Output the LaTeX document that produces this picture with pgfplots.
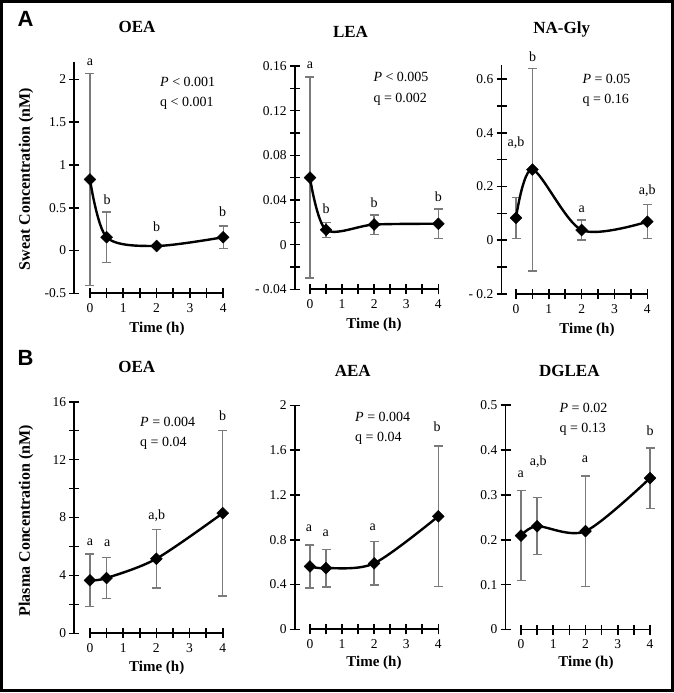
\documentclass[border=0pt]{standalone}
\usepackage{fontspec}
\setmainfont{Liberation Serif}
\newfontfamily\arialfont{Liberation Sans}
\usepackage{pgfplots}
\pgfplotsset{compat=1.18}
\newcommand\fs[1]{\fontsize{#1bp}{#1bp}\selectfont}
\definecolor{errgray}{HTML}{7A7A7A}

\pgfplotstableread{
t m e
0 0.83 1.24
0.5 0.155 0.295
2 0.053 0.02
4 0.155 0.13
}\tabAa
\pgfplotstableread{
t m e
0 0.060 0.09
0.5 0.0133 0.0067
2 0.018 0.0087
4 0.0187 0.0133
}\tabAb
\pgfplotstableread{
t m e
0 0.083 0.077
0.5 0.263 0.377
2 0.038 0.037
4 0.069 0.063
}\tabAc
\pgfplotstableread{
t m e
0 3.66 1.82
0.5 3.82 1.43
2 5.15 2.02
4 8.3 5.72
}\tabBa
\pgfplotstableread{
t m e
0 0.561 0.192
0.5 0.546 0.168
2 0.589 0.193
4 1.009 0.628
}\tabBb
\pgfplotstableread{
t m e
0 0.209 0.1
0.5 0.23 0.0635
2 0.219 0.123
4 0.337 0.067
}\tabBc

\pgfplotsset{
  panel/.style={
    scale only axis, clip=false, anchor=south west,
    axis x line*=bottom, axis y line*=left,
    x axis line style={draw=none},
    y axis line style={line width=1.8bp, black},
    tick align=center,
    major tick length=10bp, minor tick length=10bp,
    tick style={black, line width=1.6bp},
    xmax=4,
    xtick={0,1,2,3,4}, minor xtick={0.5,1.5,2.5,3.5},
    xticklabels={0,1,2,3,4},
    tick label style={font=\fs{13.5}},
    yticklabel style={anchor=east, inner sep=0pt, xshift=-3bp},
    xticklabel style={anchor=north, inner sep=0pt, yshift=-5bp},
  },
  errs/.style={only marks, mark=none,
    error bars/.cd, y dir=both, y explicit,
    error bar style={draw=errgray, line width=1.4bp},
    error mark options={rotate=90, draw=errgray, mark size=4.5bp, line width=1.4bp}},
  curve/.style={black, line width=2.4bp, smooth, mark=square*,
    mark size=4.2bp, mark options={rotate=45, solid, fill=black, draw=black, line width=0.4bp}},
}
\newcommand\xline[1]{\draw[line width=1.8bp] (axis cs:0,#1) -- (axis cs:4,#1);}

\begin{document}
\begin{tikzpicture}
\useasboundingbox (0,0) rectangle (674bp,-693bp);
\fill[white] (0,0) rectangle (674bp,-693bp);
\draw[line width=2.6bp] (1.2bp,-1.2bp) rectangle (672.4bp,-690.2bp);

% ---------- A: OEA ----------
\begin{axis}[panel, at={(74.3bp,-293.3bp)}, width=148.9bp, height=231.1bp,
  xmin=-0.471, ymin=-0.5, ymax=2.2,
  ytick={-0.5,0,0.5,1,1.5,2}, yticklabels={-0.5,0,0.5,1,1.5,2}]
  \xline{-0.5}
  \addplot[errs] table[x=t, y=m, y error=e] {\tabAa};
  \addplot[curve] table[x=t, y=m] {\tabAa};
\end{axis}

% ---------- A: LEA ----------
\begin{axis}[panel, at={(294.8bp,-289.3bp)}, width=143.5bp, height=223.3bp,
  xmin=-0.473, ymin=-0.04, ymax=0.16,
  ytick={-0.04,0,0.04,0.08,0.12,0.16}, yticklabels={- 0.04,0,0.04,0.08,0.12,0.16},
  minor ytick={-0.02,0.02,0.06,0.1,0.14}]
  \xline{-0.04}
  \addplot[errs] table[x=t, y=m, y error=e] {\tabAb};
  \addplot[curve] table[x=t, y=m] {\tabAb};
\end{axis}

% ---------- A: NA-Gly ----------
\begin{axis}[panel, at={(501.5bp,-294bp)}, width=145.8bp, height=229bp,
  xmin=-0.442, ymin=-0.2, ymax=0.652,
  ytick={-0.2,0,0.2,0.4,0.6}, yticklabels={- 0.2,0,0.2,0.4,0.6},
  minor ytick={-0.1,0.1,0.3,0.5}]
  \xline{-0.2}
  \addplot[errs] table[x=t, y=m, y error=e] {\tabAc};
  \addplot[curve] table[x=t, y=m] {\tabAc};
\end{axis}

% ---------- B: OEA ----------
\begin{axis}[panel, at={(74.3bp,-633.3bp)}, width=148.4bp, height=231.6bp,
  xmin=-0.471, ymin=0, ymax=16,
  ytick={0,4,8,12,16}, yticklabels={0,4,8,12,16},
  minor ytick={2,6,10,14}]
  \xline{0}
  \addplot[errs] table[x=t, y=m, y error=e] {\tabBa};
  \addplot[curve] table[x=t, y=m] {\tabBa};
\end{axis}

% ---------- B: AEA ----------
\begin{axis}[panel, at={(294.8bp,-629.3bp)}, width=143.5bp, height=224bp,
  xmin=-0.473, ymin=0, ymax=2,
  ytick={0,0.4,0.8,1.2,1.6,2}, yticklabels={0,0.4,0.8,1.2,1.6,2}]
  \xline{0}
  \addplot[errs] table[x=t, y=m, y error=e] {\tabBb};
  \addplot[curve] table[x=t, y=m] {\tabBb};
\end{axis}

% ---------- B: DGLEA ----------
\begin{axis}[panel, at={(505.5bp,-629.5bp)}, width=144.5bp, height=224.5bp,
  xmin=-0.481, ymin=0, ymax=0.5,
  ytick={0,0.1,0.2,0.3,0.4,0.5}, yticklabels={0,0.1,0.2,0.3,0.4,0.5}]
  \xline{0}
  \addplot[errs] table[x=t, y=m, y error=e] {\tabBc};
  \addplot[curve] table[x=t, y=m] {\tabBc};
\end{axis}

% panel letters
\node[anchor=base, font=\arialfont\bfseries\fs{22}] at (25.5bp,-26bp) {A};
\node[anchor=base, font=\arialfont\bfseries\fs{22}] at (25.5bp,-365bp) {B};

% titles
\begin{scope}[every node/.style={anchor=base, font=\bfseries\fs{17}}]
\node at (137bp,-32.5bp) {OEA};
\node at (350.5bp,-37bp) {LEA};
\node at (561.7bp,-33.5bp) {NA-Gly};
\node at (136.7bp,-372.3bp) {OEA};
\node at (352.7bp,-376.7bp) {AEA};
\node at (569.3bp,-376bp) {DGLEA};
\end{scope}

% x labels
\begin{scope}[every node/.style={anchor=base, font=\bfseries\fs{15}}]
\node at (157bp,-332bp) {Time (h)};
\node at (374bp,-328.5bp) {Time (h)};
\node at (587bp,-333bp) {Time (h)};
\node at (156.7bp,-671bp) {Time (h)};
\node at (374bp,-666bp) {Time (h)};
\node at (586bp,-666bp) {Time (h)};
\end{scope}

% y labels
\node[rotate=90, font=\bfseries\fs{16}] at (26bp,-179bp) {Sweat Concentration (nM)};
\node[rotate=90, font=\bfseries\fs{16}] at (26bp,-520.7bp) {Plasma Concentration (nM)};

% statistics
\begin{scope}[every node/.style={anchor=base west, font=\fs{14}, inner sep=0pt}]
\node at (160bp,-86bp) {\textit{P} < 0.001};
\node at (160bp,-106bp) {q < 0.001};
\node at (373.3bp,-81.7bp) {\textit{P} < 0.005};
\node at (373.3bp,-102.7bp) {q = 0.002};
\node at (582.3bp,-83.3bp) {\textit{P} = 0.05};
\node at (582.3bp,-103.3bp) {q = 0.16};
\node at (140bp,-426bp) {\textit{P} = 0.004};
\node at (140bp,-446bp) {q = 0.04};
\node at (355bp,-421bp) {\textit{P} = 0.004};
\node at (355bp,-441.7bp) {q = 0.04};
\node at (559.3bp,-412.7bp) {\textit{P} = 0.02};
\node at (559.3bp,-432.7bp) {q = 0.13};
\end{scope}

% significance letters
\begin{scope}[every node/.style={anchor=base, font=\fs{14}, inner sep=0pt}]
\node at (90bp,-65bp) {a};
\node at (107bp,-204.5bp) {b};
\node at (156.7bp,-231bp) {b};
\node at (222.7bp,-216bp) {b};
\node at (310bp,-68bp) {a};
\node at (326bp,-213bp) {b};
\node at (374bp,-207bp) {b};
\node at (438.3bp,-201bp) {b};
\node at (516bp,-146.5bp) {a,b};
\node at (532.7bp,-61bp) {b};
\node at (581.7bp,-212.5bp) {a};
\node at (647.3bp,-194bp) {a,b};
\node at (90bp,-545bp) {a};
\node at (107.3bp,-546.5bp) {a};
\node at (156.7bp,-519bp) {a,b};
\node at (222.7bp,-420.5bp) {b};
\node at (309bp,-531.5bp) {a};
\node at (325.7bp,-536bp) {a};
\node at (372.7bp,-530bp) {a};
\node at (437bp,-431.7bp) {b};
\node at (520.7bp,-477bp) {a};
\node at (538.3bp,-465.5bp) {a,b};
\node at (585bp,-462.5bp) {a};
\node at (650bp,-435bp) {b};
\end{scope}
\end{tikzpicture}
\end{document}
